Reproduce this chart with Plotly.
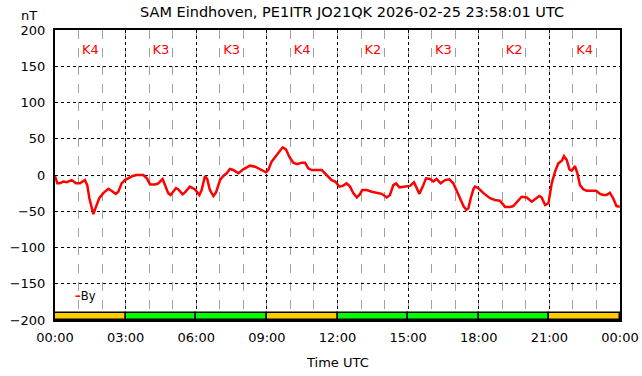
import plotly.graph_objects as go

# Time in hours UTC, By in nT
hours = [0.0, 0.1, 0.21, 0.35, 0.5, 0.71, 0.89, 1.06, 1.27, 1.37, 1.46, 1.56, 1.63, 1.74, 1.88,
         2.05, 2.27, 2.41, 2.58, 2.69, 2.83, 2.97, 3.11, 3.3, 3.47, 3.75, 3.9, 4.04, 4.25, 4.39,
         4.57, 4.67, 4.81, 4.91, 5.14, 5.24, 5.42, 5.52, 5.73, 5.95, 6.13, 6.23, 6.37, 6.47, 6.58,
         6.73, 6.84, 7.01, 7.15, 7.29, 7.43, 7.57, 7.79, 8.0, 8.28, 8.5, 8.71, 8.96, 9.06, 9.2,
         9.42, 9.56, 9.67, 9.81, 9.95, 10.12, 10.29, 10.48, 10.62, 10.76, 10.9, 11.33, 11.47,
         11.61, 11.75, 11.9, 12.08, 12.22, 12.39, 12.53, 12.67, 12.82, 12.93, 13.05, 13.24,
         13.45, 13.67, 13.88, 14.09, 14.23, 14.37, 14.49, 14.63, 14.87, 15.08, 15.25, 15.39,
         15.48, 15.62, 15.76, 15.93, 16.07, 16.21, 16.38, 16.57, 16.75, 16.92, 17.07, 17.24,
         17.35, 17.47, 17.56, 17.66, 17.77, 17.84, 17.98, 18.2, 18.48, 18.69, 18.9, 19.12, 19.33,
         19.47, 19.68, 19.82, 20.04, 20.25, 20.39, 20.57, 20.67, 20.82, 20.96, 21.1, 21.24,
         21.38, 21.53, 21.62, 21.74, 21.85, 21.95, 22.09, 22.19, 22.3, 22.44, 22.58, 22.87,
         22.98, 23.15, 23.29, 23.43, 23.57, 23.71, 23.85, 23.99]
by_nt = [-1.4, -11.5, -11.5, -9, -10, -7, -11.5, -11.5, -7, -14, -32, -48, -54, -44, -32,
         -25, -19, -22, -26, -23, -11.5, -7, -4.6, -1.4, 0, 0, -4.6, -13, -13, -11.5,
         -5.5, -14, -25, -27.6, -18, -20, -26.6, -24, -16, -20, -27.6, -20.7, -1.4, -6, -20.7,
         -29, -24, -7, -1.4, 2.3, 8.3, 6.9, 2.3, 7.8, 12.9, 11.5, 7.8, 3.7, 6.9, 18.4,
         27.6, 34.5, 38.2, 35.4, 25.3, 17, 15, 17, 17, 9.2, 6.9, 6.9, 2.3,
         -3.2, -7, -9, -16, -15, -11.5, -16, -25, -31, -27.6, -20.7, -20.7,
         -23, -25, -26, -31, -27.6, -14, -11.5, -17, -16, -15, -10, -20.7,
         -26, -16, -4.6, -5.5, -9, -5.5, -11.5, -7, -6, -11.5, -23, -34.5,
         -42.8, -48, -46, -32, -19.7, -16, -18, -25, -32, -34.5, -35.4, -44, -44,
         -42.8, -34.5, -30, -31, -36.8, -33.5, -29, -31, -41.4, -39, -11.5, 4.6,
         16, 19.7, 26, 20.7, 7.8, 6, 12.4, 2.3, -14, -19.7, -21.6, -21.6,
         -21.6, -26, -27.6, -27.6, -24.4, -32, -42.8, -43.7]

# K-index per 3-hour block
k_start = [0, 3, 6, 9, 12, 15, 18, 21]
k_index = [4, 3, 3, 4, 2, 3, 2, 4]

tick_vals = [0, 3, 6, 9, 12, 15, 18, 21, 24]
tick_text = ["00:00", "03:00", "06:00", "09:00", "12:00", "15:00", "18:00", "21:00", "00:00"]

FONT = "DejaVu Sans"
W, H = 642, 376
# plot area in window pixels: x 55..620, y 30..320
L, R, T, B = 55, W - 620, 30, H - 320
PW, PH = 620 - 55, 320 - 30


def px_x(x):  # window pixel x -> paper fraction
    return (x - 55) / PW


def px_y(y):  # window pixel y -> paper fraction
    return (320 - y) / PH


def k_color(k):
    return "#ffcc00" if k >= 4 else "#00ff00"


fig = go.Figure()

# K-index band at the bottom
fig.add_trace(go.Bar(
    x=[s + 1.5 for s in k_start], y=[10] * len(k_index), base=-200, width=3,
    marker=dict(color=[k_color(k) for k in k_index], line=dict(color="black", width=1.5)),
    showlegend=False, hoverinfo="skip"))

# K labels at top
fig.add_trace(go.Scatter(
    x=[s + 1.5 for s in k_start], y=[172] * len(k_index), mode="text",
    text=["K%d" % k for k in k_index],
    textfont=dict(color="#ff0000", size=13, family=FONT), showlegend=False, hoverinfo="skip"))

fig.add_trace(go.Scatter(x=hours, y=by_nt, mode="lines", name="By",
                         line=dict(color="#ff0000", width=2.5), showlegend=False))

fig.update_layout(
    width=W, height=H,
    margin=dict(l=L, r=R, t=T, b=B, autoexpand=False),
    paper_bgcolor="white", plot_bgcolor="white",
    font=dict(family=FONT, size=13, color="black"),
    title=dict(text="SAM Eindhoven, PE1ITR JO21QK 2026-02-25 23:58:01 UTC",
               x=337.5 / W, xref="paper", xanchor="center",
               y=1 - 12 / H, yref="container", yanchor="middle",
               font=dict(size=14.5, family=FONT), automargin=False),
    bargap=0,
    xaxis=dict(range=[0, 24], tickvals=tick_vals, ticktext=tick_text, automargin=False,
               showgrid=True, gridcolor="black", griddash="dot", gridwidth=1,
               minor=dict(dtick=1, showgrid=True, gridcolor="#a0a0a0", griddash="dash", gridwidth=1),
               showline=True, linecolor="black", linewidth=2, mirror=True,
               ticks="", ticklabelstandoff=4, zeroline=False,
               tickfont=dict(size=13)),
    yaxis=dict(range=[-200, 200], dtick=50, showgrid=True, gridcolor="black", griddash="dot",
               gridwidth=1, showline=True, linecolor="black", linewidth=2, mirror=True,
               automargin=False,
               ticks="", ticklabelstandoff=5, zeroline=False, tickfont=dict(size=13)),
    annotations=[
        dict(text="nT", x=px_x(29), y=px_y(15), xref="paper", yref="paper",
             showarrow=False, xanchor="center", yanchor="middle", font=dict(size=13)),
        dict(text="Time UTC", x=0.5, y=px_y(362), xref="paper", yref="paper",
             showarrow=False, xanchor="center", yanchor="middle", font=dict(size=13)),
        dict(text="<span style='color:#ff0000'><b>–</b></span>By", x=px_x(73),
             y=px_y(296), xref="paper", yref="paper", xanchor="left", yanchor="middle",
             showarrow=False, font=dict(size=11.5)),
    ],
)

fig.write_html("out.html", config={"displayModeBar": False},
               post_script="document.body.style.margin='0';")
